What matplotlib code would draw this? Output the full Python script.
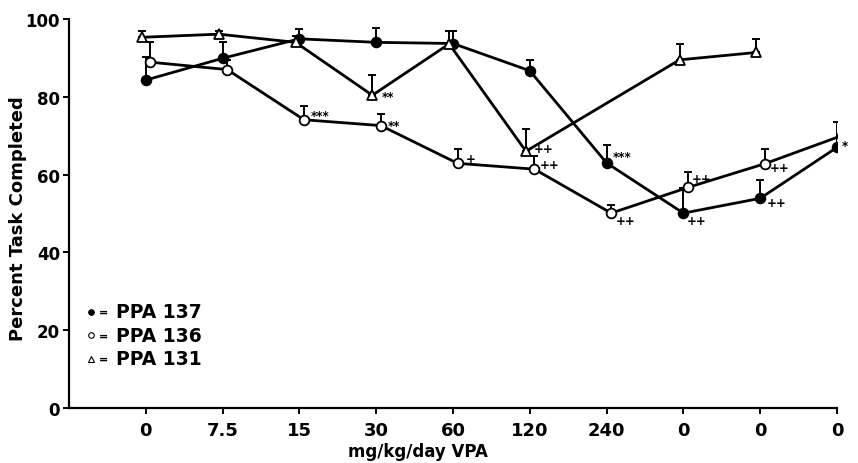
import numpy as np
import matplotlib.pyplot as plt

plt.rcParams['font.family'] = 'DejaVu Sans'
plt.rcParams['font.weight'] = 'bold'

# dose sequence (last three are washout sessions)
doses = ['0', '7.5', '15', '30', '60', '120', '240', '0', '0', '0']

# PPA 137 (filled circles)
ppa137_idx = [0, 1, 2, 3, 4, 5, 6, 7, 8, 9]
ppa137 = [84.3, 89.9, 94.9, 94.0, 93.7, 86.7, 63.0, 50.1, 53.9, 67.0]
ppa137_top = [90.2, 94.0, 97.4, 97.6, 97.0, 89.5, 67.6, 56.5, 58.5, 73.4]

# PPA 136 (open circles)
ppa136_idx = [0, 1, 2, 3, 4, 5, 6, 7, 8, 9]
ppa136 = [88.9, 87.0, 74.1, 72.6, 62.9, 61.4, 50.1, 56.7, 62.8, 70.0]
ppa136_top = [94.0, 89.5, 77.6, 75.7, 66.6, 64.7, 52.2, 60.7, 66.6, 73.4]

# PPA 131 (open triangles), no sessions at 240 and the last washout
ppa131_idx = [0, 1, 2, 3, 4, 5, 7, 8]
ppa131 = [95.3, 96.1, 94.0, 80.4, 93.6, 66.0, 89.5, 91.4]
ppa131_top = [96.8, 97.0, 95.7, 85.6, 97.0, 71.7, 93.6, 94.9]

# significance marks: (series, dose index, text, dx px, dy px)
marks = [
    ('136', 2, '***', 7, 4),
    ('131', 3, '**', 9, -1),
    ('136', 3, '**', 7, 0),
    ('136', 4, '+', 8, 5),
    ('131', 5, '++', 8, 3),
    ('136', 5, '++', 5, 5),
    ('137', 6, '***', 6, 6),
    ('136', 6, '++', 5, -7),
    ('137', 7, '++', 3, -7),
    ('136', 7, '++', 4, 9),
    ('137', 8, '++', 7, -4),
    ('136', 8, '++', 5, -4),
    ('137', 9, '*', 5, 2),
    ('136', 9, '**', 4, 5),
]

fig = plt.figure(figsize=(8.58, 4.64), dpi=100)
ax = fig.add_axes([0.0804, 0.1185, 0.8951, 0.8384])

series = {
    '137': (ppa137_idx, ppa137, ppa137_top, 0.0, dict(marker='o', mfc='black', ms=7)),
    '136': (ppa136_idx, ppa136, ppa136_top, 0.06, dict(marker='o', mfc='white', ms=7)),
    '131': (ppa131_idx, ppa131, ppa131_top, -0.05, dict(marker='^', mfc='white', ms=7)),
}

for key, (idx, vals, tops, dx, mstyle) in series.items():
    x = np.array(idx) + dx
    y = np.array(vals)
    up = np.array(tops) - y
    ax.errorbar(x, y, yerr=[np.zeros_like(up), up], fmt='none', ecolor='black',
                elinewidth=1.4, capsize=3, capthick=1.4, zorder=2)
    ax.plot(x, y, color='black', lw=2.0, zorder=1)
    ax.plot(x, y, ls='none', mec='black', mew=1.3, zorder=3, **mstyle)

for key, i, txt, dxp, dyp in marks:
    idx, vals, tops, dx, _ = series[key]
    k = idx.index(i)
    ax.annotate(txt, (idx[k] + dx, vals[k]), xytext=(dxp * 0.72, dyp * 0.72),
                textcoords='offset points', ha='left', va='center',
                fontsize=8.5, fontweight='bold')

ax.set_xlim(-1.0, 9.0)
ax.set_ylim(0, 100)
ax.set_xticks(range(len(doses)))
ax.set_xticklabels(doses)
ax.set_yticks([0, 20, 40, 60, 80, 100])
ax.tick_params(axis='x', length=4.5, width=1.4, pad=5, labelsize=13)
ax.tick_params(axis='y', length=4.5, width=1.4, pad=2, labelsize=12)
for lab in ax.get_xticklabels() + ax.get_yticklabels():
    lab.set_fontweight('bold')

for side in ['top', 'right']:
    ax.spines[side].set_visible(False)
for side in ['left', 'bottom']:
    ax.spines[side].set_linewidth(1.6)

ax.set_xlabel('mg/kg/day VPA', fontsize=12, fontweight='bold')
ax.xaxis.set_label_coords(0.454, -0.088)
ax.set_ylabel('Percent Task Completed', fontsize=13, fontweight='bold')
ax.yaxis.set_label_coords(-0.055, 0.49)

# key in the lower left corner
key_rows = [('o', 'black', 'PPA 137'), ('o', 'white', 'PPA 136'), ('^', 'white', 'PPA 131')]
for r, (m, fc, name) in enumerate(key_rows):
    yk = 0.247 - r * 0.06
    ax.plot([0.0285], [yk], marker=m, mfc=fc, mec='black', mew=0.8, ms=4,
            transform=ax.transAxes, clip_on=False)
    ax.text(0.0455, yk, '=', transform=ax.transAxes, ha='center', va='center',
            fontsize=8, fontweight='bold')
    ax.text(0.0608, yk, name, transform=ax.transAxes, ha='left', va='center',
            fontsize=13.5, fontweight='bold')

fig.savefig('out.png', dpi=100)
